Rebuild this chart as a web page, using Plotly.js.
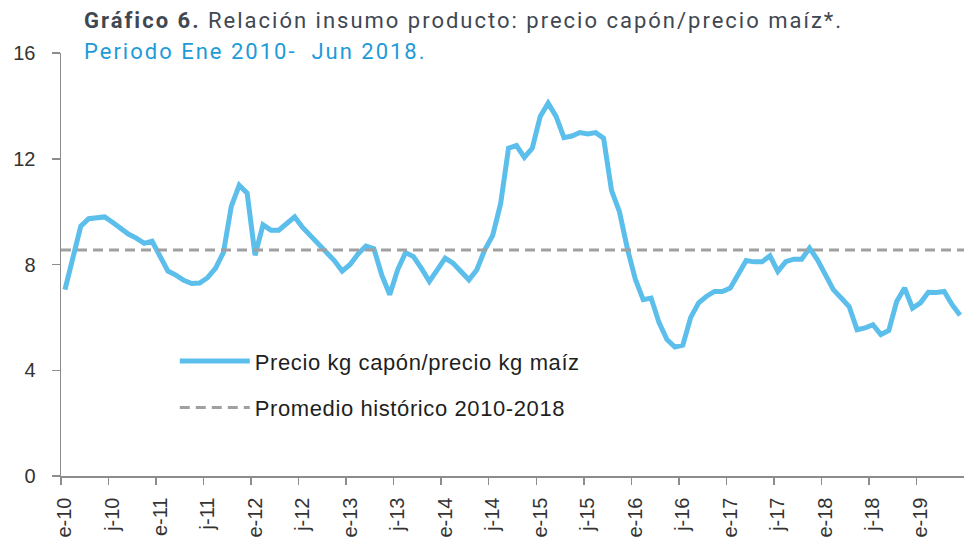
<!DOCTYPE html>
<html>
<head>
<meta charset="utf-8">
<script src="https://cdn.plot.ly/plotly-3.0.1.min.js"></script>
<style>
html,body{margin:0;padding:0;background:#ffffff;}
#chart{width:964px;height:541px;}
.annotation-text{letter-spacing:2px;}
.legendtext{letter-spacing:0.6px;}
</style>
</head>
<body>
<div id="chart"></div>
<script>
// Relación precio capón / precio maíz (mensual)
const valores = [
  7.05, 8.3, 9.45, 9.73, 9.75, 9.8, 9.6, 9.35, 9.15, 9.0, 8.8, 8.88,
  8.3, 7.75, 7.6, 7.4, 7.28, 7.3, 7.5, 7.85, 8.45, 10.2, 11.0, 10.7,
  8.35, 9.5, 9.3, 9.3, 9.55, 9.8, 9.4, 9.1, 8.75, 8.5, 8.15, 7.75,
  8.0, 8.4, 8.7, 8.6, 7.6, 6.86, 7.8, 8.45, 8.3, 7.85, 7.36, 7.8,
  8.24, 8.05, 7.7, 7.42, 7.8, 8.56, 9.1, 10.3, 12.4, 12.5, 12.05, 12.4,
  13.6, 14.1, 13.6, 12.8, 12.86, 12.99, 12.94, 12.99, 12.78, 10.8, 10.0, 8.6,
  7.45, 6.67, 6.73, 5.8, 5.16, 4.88, 4.95, 6.0, 6.55, 6.8, 6.98, 6.98,
  7.11, 7.6, 8.15, 8.1, 8.1, 8.33, 7.74, 8.11, 8.2, 8.2, 8.62, 8.18,
  7.6, 7.05, 6.73, 6.41, 5.53, 5.6, 5.72, 5.35, 5.5, 6.6, 7.11, 6.35,
  6.55, 6.95, 6.94, 6.98, 6.48, 6.08
];
const promedio = 8.55;
const tickText = ['e-10','j-10','e-11','j-11','e-12','j-12','e-13','j-13','e-14','j-14',
                  'e-15','j-15','e-16','j-16','e-17','j-17','e-18','j-18','e-19'];
const yTicks = [0, 4, 8, 12, 16];
const nombreSerie = 'Precio kg capón/precio kg maíz';
const nombrePromedio = 'Promedio histórico 2010-2018';

const x = valores.map((v, i) => i);
const tickPos = tickText.map((t, i) => i * 6);
const boundaryPos = tickText.map((t, i) => i * 6 - 0.5);
const xRange = [-0.5, valores.length - 0.5];

const traces = [
  {
    x: x, y: valores, type: 'scatter', mode: 'lines',
    name: nombreSerie,
    line: {color: '#5BBEEB', width: 5},
    legendgroup: 'a'
  },
  {
    x: xRange, y: [promedio, promedio], type: 'scatter', mode: 'lines',
    xaxis: 'x2',
    name: nombrePromedio,
    line: {color: '#A0A0A0', width: 3, dash: '10px,6px'},
    legendgroup: 'b'
  }
];

const tickFont = {family: 'Liberation Sans, Arial, sans-serif', size: 20, color: '#333333'};

const layout = {
  width: 964, height: 541,
  margin: {l: 61, r: 0, t: 53, b: 65},
  paper_bgcolor: '#ffffff', plot_bgcolor: '#ffffff',
  showlegend: true,
  legend: {
    x: 0.126, xanchor: 'left', y: 0.321, yanchor: 'top',
    bgcolor: 'rgba(0,0,0,0)',
    font: {family: 'Liberation Sans, Arial, sans-serif', size: 22, color: '#1f1f1f'},
    traceorder: 'grouped', tracegroupgap: 15, itemwidth: 70
  },
  xaxis: {
    range: xRange, tickmode: 'array', tickvals: tickPos, ticktext: tickText,
    tickangle: -90, ticks: '', showline: true, linecolor: '#8C8C8C', linewidth: 1.5,
    showgrid: false, zeroline: false, tickfont: tickFont, ticklabelstandoff: 12
  },
  xaxis2: {
    range: xRange, overlaying: 'x', anchor: 'y', side: 'bottom',
    tickmode: 'array', tickvals: boundaryPos, ticks: 'outside', ticklen: 8,
    tickcolor: '#8C8C8C', tickwidth: 1.5, showticklabels: false,
    showline: false, showgrid: false, zeroline: false
  },
  yaxis: {
    range: [0, 16], tickmode: 'array', tickvals: yTicks,
    ticks: 'outside', ticklen: 8, tickcolor: '#8C8C8C', tickwidth: 1.5,
    showline: true, linecolor: '#8C8C8C', linewidth: 1.5,
    showgrid: false, zeroline: false, tickfont: tickFont, ticklabelstandoff: 12
  },
  annotations: [
    {
      text: '<b>Gráfico 6.</b> Relación insumo producto: precio capón/precio maíz*.',
      xref: 'paper', yref: 'paper', x: 0.02326, y: 1.078,
      xanchor: 'left', yanchor: 'middle', showarrow: false,
      font: {family: 'Roboto, sans-serif', size: 22, color: '#3F4852'}
    },
    {
      text: 'Periodo Ene 2010-\u00a0 Jun 2018.',
      xref: 'paper', yref: 'paper', x: 0.02326, y: 1.0047,
      xanchor: 'left', yanchor: 'middle', showarrow: false,
      font: {family: 'Roboto, sans-serif', size: 22, color: '#1D9BD8'}
    }
  ]
};

Plotly.newPlot('chart', traces, layout, {displayModeBar: false, staticPlot: true});
</script>
</body>
</html>
